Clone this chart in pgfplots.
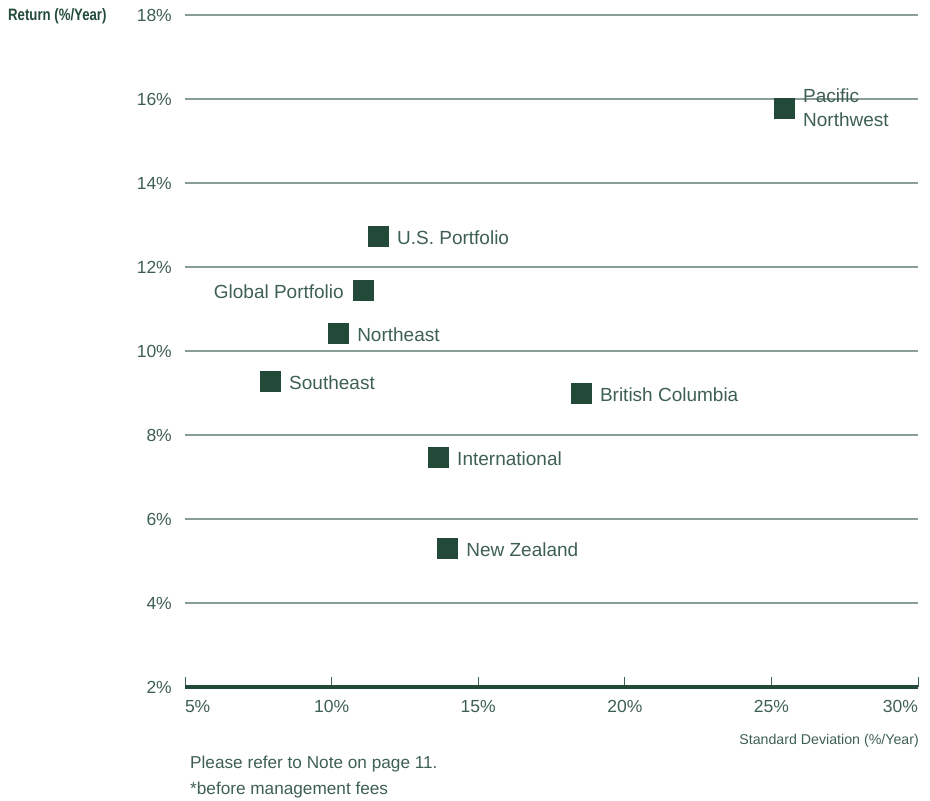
\documentclass[border=0pt]{standalone}
\usepackage{fontspec}
\setmainfont{Liberation Sans}
\newfontfamily\condbold[FakeStretch=0.8]{Liberation Sans Bold}
\usepackage{pgfplots}
\pgfplotsset{compat=1.18}
\definecolor{txt}{HTML}{3E5F54}
\definecolor{mk}{HTML}{234A38}
\definecolor{grd}{HTML}{8B9E95}
\begin{document}
\begin{tikzpicture}
\useasboundingbox (-185bp,-114bp) rectangle (745bp,687bp);
\begin{axis}[
  scale only axis, width=733bp, height=672bp,
  xmin=5, xmax=30, ymin=2, ymax=18,
  separate axis lines,
  axis x line*=bottom, axis y line*=left,
  y axis line style={draw=none},
  x axis line style={line width=4.5bp, color=mk, -},
  xtick={5,10,15,20,25,30},
  xticklabels={\makebox[0pt][l]{5\%},10\%,15\%,20\%,25\%,\makebox[0pt][r]{30\%}},
  ytick={2,4,...,18},
  yticklabels={2\%,4\%,6\%,8\%,10\%,12\%,14\%,16\%,18\%},
  ymajorgrids, grid style={line width=1.5bp, color=grd},
  xtick style={draw=txt, line width=0.8bp},
  major tick length=10bp,
  tick align=inside,
  ytick style={draw=none},
  ticklabel style={font=\fontsize{17.5bp}{21bp}\selectfont, text=txt, inner sep=0pt},
  xticklabel style={anchor=north, yshift=-13bp},
  yticklabel style={anchor=east, xshift=-13bp},
  clip=false,
]
\addplot[only marks, mark=square*, mark size=10bp, color=mk, mark options={draw=none, fill=mk},
  point meta=explicit symbolic, nodes near coords,
  nodes near coords style={anchor=west, xshift=19bp, yshift=-1.5bp, inner sep=0pt, font=\fontsize{19bp}{22bp}\selectfont, text=txt}]
coordinates {
(11.58,12.74) [U.S. Portfolio]
(10.22,10.43) [Northeast]
(7.90,9.29) [Southeast]
(18.50,9.00) [British Columbia]
(13.63,7.48) [International]
(13.94,5.31) [New Zealand]
};
\addplot[only marks, mark=square*, mark size=10bp, color=mk, mark options={draw=none, fill=mk},
  point meta=explicit symbolic, nodes near coords,
  nodes near coords style={anchor=east, xshift=-19bp, yshift=-1.5bp, inner sep=0pt, font=\fontsize{19bp}{22bp}\selectfont, text=txt}]
coordinates {
(11.07,11.45) [Global Portfolio]
};
\addplot[only marks, mark=square*, mark size=10bp, color=mk, mark options={draw=none, fill=mk},
  point meta=explicit symbolic, nodes near coords,
  nodes near coords style={anchor=west, xshift=19bp, inner sep=0pt, text width=100bp, align=left, font=\fontsize{19bp}{24bp}\selectfont, text=txt}]
coordinates {
(25.43,15.79) [Pacific Northwest]
};
\end{axis}
\node[anchor=west, inner sep=0pt, text=mk] at (-177bp,671bp) {\condbold\fontsize{16.5bp}{19bp}\selectfont Return (\%/Year)};
\node[anchor=east, inner sep=0pt, text=txt, font=\fontsize{14.2bp}{17bp}\selectfont] at (734bp,-54bp) {Standard Deviation (\%/Year)};
\node[anchor=west, inner sep=0pt, text=txt, font=\fontsize{17.2bp}{20bp}\selectfont] at (5bp,-77bp) {Please refer to Note on page 11.};
\node[anchor=west, inner sep=0pt, text=txt, font=\fontsize{17.2bp}{20bp}\selectfont] at (5bp,-103bp) {*before management fees};
\end{tikzpicture}
\end{document}
